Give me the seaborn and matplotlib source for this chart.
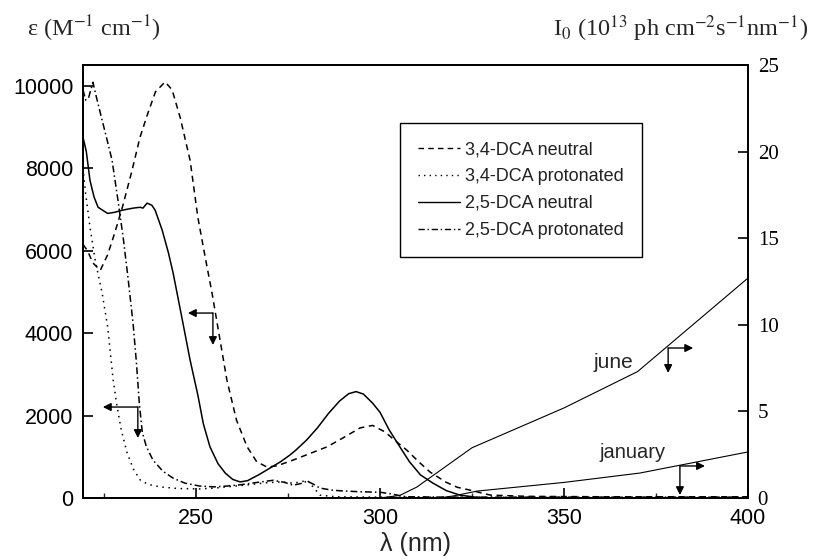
import numpy as np
import pandas as pd
import matplotlib
matplotlib.use("Agg")
import matplotlib.pyplot as plt
import seaborn as sns
from matplotlib.ticker import FixedLocator

# ---------------- data ----------------
series_names = ["3,4-DCA neutral", "3,4-DCA protonated", "2,5-DCA neutral", "2,5-DCA protonated"]

wl_34n = [219.3, 220.5, 222, 224, 226, 228, 230, 232.5, 234.8, 237, 239, 241.6, 243.5, 245.7,
          248.4, 250.5, 252.5, 254.4, 256.5, 258.4, 261, 263.9, 266.5, 269.3, 272, 276.4, 281,
          285.6, 290, 294.6, 298, 301.4, 304, 307.3, 310.5, 313.6, 318, 321, 324.5, 330, 340,
          360, 380, 400]
eps_34n = [6150, 6000, 5700, 5520, 5900, 6450, 7050, 7900, 8750, 9350, 9850, 10090, 9900, 9230,
           8190, 6810, 5840, 4950, 3850, 2860, 1890, 1240, 880, 750, 780, 920, 1080,
           1240, 1460, 1700, 1760, 1600, 1400, 1160, 880, 630, 380, 260, 190, 70, 40,
           30, 30, 30]

wl_34p = [219.3, 220, 221.2, 222.6, 224.5, 226, 227.5, 228.5, 229.7, 231.3, 233, 234.8, 237,
          240.2, 245, 251, 255, 258.4, 263, 269.3, 273, 276.4, 278.5, 280.2, 282, 283.7, 288,
          300, 400]
eps_34p = [8000, 7390, 6570, 5770, 4970, 4150, 2860, 2250, 1650, 1090, 700, 440, 330,
           270, 230, 220, 240, 270, 310, 370, 390, 360, 390, 430, 250, 70, 30,
           20, 10]

wl_25n = [219.3, 220.2, 221.2, 222.3, 223.4, 226, 228, 230, 233, 234.8, 235.6, 236.7, 238,
          238.9, 240.8, 242.5, 243.8, 246, 248.4, 250.5, 252, 253.8, 256, 258, 260, 262, 264,
          267, 270, 273, 275.5, 277, 280, 283, 286, 289, 291.5, 293.5, 295.5, 298, 300, 302.5,
          305.4, 308, 311, 314.4, 318, 321.7, 326, 330, 350, 400]
eps_25n = [8750, 8400, 7700, 7300, 7050, 6900, 6930, 6980, 7030, 7050, 7030, 7150, 7100,
           6980, 6500, 5950, 5450, 4450, 3345, 2500, 1800, 1240, 830, 600, 450, 390, 420,
           560, 720, 880, 1040, 1150, 1400, 1700, 2050, 2350, 2530, 2580, 2520, 2300, 2080, 1650,
           1240, 880, 560, 360, 180, 70, 20, 0, 0, 0]

wl_25p = [219.3, 220, 220.8, 222, 223, 224.5, 225.8, 227.2, 228.8, 230.2, 231.5, 232.9, 233.8,
          234.6, 235.4, 236.5, 238.3, 241, 243.8, 247, 251, 255, 258.4, 262, 266, 271, 274,
          276.4, 278.5, 280.2, 282, 283.7, 287, 290, 295, 300, 303, 307, 320, 400]
eps_25p = [9900, 9650, 9700, 10080, 9700, 9160, 8700, 8190, 7220, 6330, 5360, 4240, 3300,
           2300, 1600, 1250, 920, 650, 480, 360, 290, 270, 290, 320, 370, 430, 380,
           310, 350, 410, 330, 240, 190, 170, 150, 140, 100, 30, 20, 20]

wl_june = [300, 305.4, 310, 325, 350, 370, 400]
i0_june = [0.0, 0.15, 0.63, 2.9, 5.2, 7.3, 12.7]
wl_jan = [316, 320, 326.4, 350, 370.6, 400]
i0_jan = [0.0, 0.12, 0.4, 0.9, 1.44, 2.66]

eps_ticks = [0, 2000, 4000, 6000, 8000, 10000]
i0_ticks = [0, 5, 10, 15, 20, 25]
wl_major = [250, 300, 350, 400]
wl_minor = [225, 275, 325, 375]

# annotation arrows: (corner_x, corner_y, left/right tip x, down tip y)
left_arrows = [(254.6, 4485, 247.8, 3710), (234.2, 2206, 224.7, 1455)]
right_arrows = [(378.3, 8.66, 385.1, 7.22), (381.5, 1.85, 388.3, 0.17)]

# ---------------- styling ----------------
sns.set_theme(style="ticks")
plt.rcParams['font.family'] = ['Liberation Sans', 'DejaVu Sans']
plt.rcParams['mathtext.fontset'] = 'stix'

fig = plt.figure(figsize=(8.15, 5.6), dpi=100)
ax = fig.add_axes([83 / 815, 1 - 498 / 560, 665 / 815, 433 / 560])

frames = []
for name, wl, ep in zip(series_names, [wl_34n, wl_34p, wl_25n, wl_25p],
                        [eps_34n, eps_34p, eps_25n, eps_25p]):
    frames.append(pd.DataFrame({"wl": wl, "eps": ep, "series": name}))
df = pd.concat(frames, ignore_index=True)

dash_map = {
    "3,4-DCA neutral": (4, 3),
    "3,4-DCA protonated": (1, 3),
    "2,5-DCA neutral": "",
    "2,5-DCA protonated": (4.5, 2, 1, 2),
}
sns.lineplot(data=df, x="wl", y="eps", style="series", style_order=series_names,
             dashes=dash_map, color="black", lw=1.1, estimator=None, sort=False,
             ax=ax, legend=True)

handles, labels = ax.get_legend_handles_labels()
if ax.get_legend() is not None:
    ax.get_legend().remove()
for h in handles:
    h.set_color("black")
    h.set_linewidth(1.0)
leg = ax.legend(handles, labels, loc="upper left", bbox_to_anchor=(0.477, 0.866),
                frameon=True, fancybox=False, edgecolor="black", fontsize=13,
                handlelength=2.3, handletextpad=0.3, labelspacing=0.55,
                borderpad=1.0, borderaxespad=0)
leg.get_frame().set_linewidth(1.0)
leg.get_frame().set_alpha(1)
for t in leg.get_texts():
    t.set_color("#222222")

ax.set_xlim(219.3, 400)
ax.set_ylim(0, 10500)
ax.xaxis.set_major_locator(FixedLocator(wl_major))
ax.xaxis.set_minor_locator(FixedLocator(wl_minor))
ax.set_yticks(eps_ticks)
ax.tick_params(axis="both", which="major", direction="in", length=7, width=1.2,
               labelsize=15.5, pad=7, colors="black")
ax.tick_params(axis="x", which="minor", direction="in", length=3.5, width=1.0)
ax.tick_params(axis="y", right=False)
ax.set_xlabel("λ (nm)", fontsize=18, labelpad=2)
ax.set_ylabel("")
for s in ax.spines.values():
    s.set_linewidth(1.3)
    s.set_color("black")

ax2 = ax.twinx()
rdf = pd.concat([pd.DataFrame({"wl": wl_june, "i0": i0_june, "month": "june"}),
                 pd.DataFrame({"wl": wl_jan, "i0": i0_jan, "month": "january"})],
                ignore_index=True)
sns.lineplot(data=rdf, x="wl", y="i0", units="month", estimator=None, sort=False,
             color="black", lw=0.8, ax=ax2, legend=False)
ax2.set_ylim(0, 25)
ax2.set_xlim(219.3, 400)
ax2.set_yticks(i0_ticks)
ax2.set_ylabel("")
ax2.tick_params(axis="y", direction="in", length=7, width=1.2, labelsize=15, pad=7,
                labelfontfamily="Liberation Serif", colors="black")
for s in ax2.spines.values():
    s.set_linewidth(1.3)
    s.set_color("black")

arrow_kw = dict(arrowstyle="-|>", color="black", lw=1.0, mutation_scale=12,
                shrinkA=0, shrinkB=0)
for cx, cy, tx, ty in left_arrows:
    ax.annotate("", xy=(tx, cy), xytext=(cx, cy), arrowprops=arrow_kw)
    ax.annotate("", xy=(cx, ty), xytext=(cx, cy), arrowprops=arrow_kw)
for cx, cy, tx, ty in right_arrows:
    ax2.annotate("", xy=(tx, cy), xytext=(cx, cy), arrowprops=arrow_kw)
    ax2.annotate("", xy=(cx, ty), xytext=(cx, cy), arrowprops=arrow_kw)

ax2.text(363.3, 7.85, "june", fontsize=15, ha="center", va="center")
ax2.text(368.5, 2.6, "january", fontsize=14.5, ha="center", va="center")

fig.text(27 / 815, 1 - 29 / 560, r"ε (M$^{-1}$ cm$^{-1}$)", family="Liberation Serif",
         fontsize=17.5, ha="left", va="center")
fig.text(808 / 815, 1 - 29 / 560, r"I$_0$ (10$^{13}$ ph cm$^{-2}$s$^{-1}$nm$^{-1}$)",
         family="Liberation Serif", fontsize=17.5, ha="right", va="center")

fig.savefig("out.png", dpi=100)
